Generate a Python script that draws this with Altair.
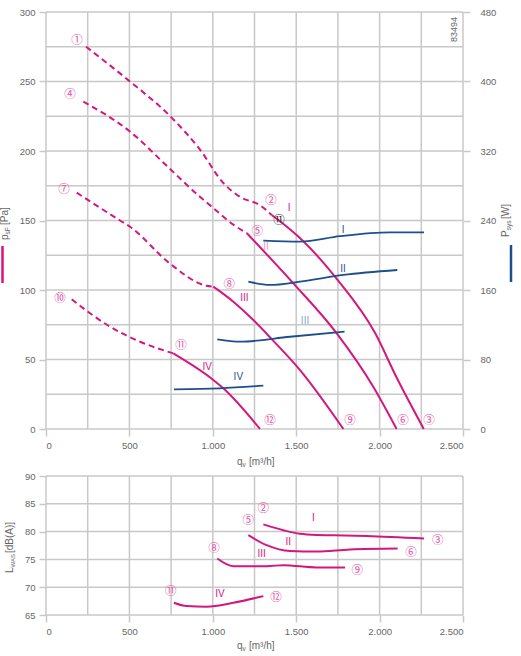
import altair as alt
import pandas as pd

# ---------------------------------------------------------------
# Fan characteristic: static pressure (Pa) over volume flow (m³/h)
# dashed = outside the recommended operating range
# ---------------------------------------------------------------
p1_dash_q = [240, 493, 753, 923, 1063, 1163, 1283, 1353]
p1_dash_p = [275, 251, 224, 201, 177, 167, 161, 154]
p1_q = [1353, 1397, 1541, 1743, 1973, 2102, 2265]
p1_p = [154, 150, 135.3, 108, 69, 37, 0]

p2_dash_q = [224, 493, 753, 923, 1003, 1123, 1203]
p2_dash_p = [235.5, 215, 186, 167, 159, 147, 141]
p2_q = [1203, 1483, 1743, 1962, 2102]
p2_p = [141, 104.8, 68.8, 30.4, 0]

p3_dash_q = [184, 444, 504, 743, 963, 1003]
p3_dash_p = [170, 150, 145.5, 119, 103, 102.4]
p3_q = [1003, 1123, 1243, 1353, 1523, 1783]
p3_p = [102.4, 91.6, 78.4, 64.7, 42.4, 0]

p4_dash_q = [154, 384, 564, 763]
p4_dash_p = [93.3, 73.6, 62.8, 54.4]
p4_q = [763, 1003, 1063, 1283]
p4_p = [54.4, 35.3, 29.3, 0]

# power input (W)
w1_q = [1303, 1523, 1763, 2062, 2266]
w1_w = [216.8, 215.6, 222, 226.4, 226.4]
w2_q = [1213, 1343, 1523, 1783, 2106]
w2_w = [169.6, 165.8, 169.6, 177.3, 183]
w3_q = [1027, 1163, 1463, 1790]
w3_w = [103.2, 100.5, 106.2, 112]
w4_q = [767, 1043, 1303]
w4_w = [45.7, 46.8, 49.9]

# sound power level (dB(A))
l1_q = [1303, 1423, 1523, 1623, 1723, 1923, 2266]
l1_db = [81.3, 80.25, 79.6, 79.4, 79.35, 79.2, 78.75]
l2_q = [1213, 1323, 1463, 1623, 1823, 2108]
l2_db = [79.35, 77.56, 76.5, 76.4, 76.8, 76.96]
l3_q = [1027, 1123, 1323, 1423, 1623, 1793]
l3_db = [75.17, 73.79, 73.79, 73.97, 73.55, 73.55]
l4_q = [767, 843, 963, 1123, 1303]
l4_db = [67.2, 66.6, 66.5, 67.2, 68.4]

# axis ticks / grid
q_grid = list(range(0, 2501, 250))
q_ticks = list(range(0, 2501, 500))
p_grid = list(range(0, 301, 25))
p_ticks = list(range(0, 301, 50))
w_ticks = list(range(0, 481, 80))
db_grid = list(range(65, 91, 5))
db_ticks = list(range(65, 91, 5))

# curve annotations (label, q, value)
pt_labels = [("①", 186, 279), ("④", 144, 240), ("⑦", 108, 172), ("⑩", 84, 93.5),
             ("②", 1349, 164), ("⑤", 1267, 141.5), ("⑧", 1099, 103.6),
             ("⑪", 809, 59.7), ("⑫", 1343, 5.8), ("⑨", 1823, 5.8),
             ("⑥", 2140, 5.8), ("③", 2296, 5.8)]
op_label = [("⑪", 1397, 150)]
stage_mag = [("I", 1457, 158.8), ("III", 1189, 94), ("IV", 967, 44.8)]
stage_pink = [("II", 1319, 130.7)]
stage_blue = [("I", 1781, 143.2), ("II", 1781, 115.1), ("IV", 1153, 37.6)]
stage_lblue = [("III", 1553, 77.7)]

db_pt_labels = [("②", 1303, 84.0), ("⑤", 1213, 81.9), ("③", 2348, 78.3),
                ("⑥", 2188, 76.2), ("⑧", 1007, 76.8), ("⑨", 1866, 72.9),
                ("⑪", 748, 69.2), ("⑫", 1379, 68.0)]
db_stage = [("I", 1603, 82.4), ("II", 1453, 78.2), ("III", 1293, 75.9), ("IV", 1043, 68.7)]

# ---------------------------------------------------------------
MAG = "#d4177f"
MAG_LT = "#e5509f"
PINK = "#f09ac6"
BLUE = "#1e4f8d"
LBLUE = "#8ea6cf"
GRID = "#c8c8c8"
TXT = "#666666"
FONT = "Liberation Sans"
CIRC_FONT = "Noto Sans CJK JP"
CIRC_SIZE = 11.5

xs = alt.Scale(domain=[0, 2500], nice=False, zero=False)
ys_pa = alt.Scale(domain=[0, 300], nice=False)
ys_w = alt.Scale(domain=[0, 480], nice=False)
ys_db = alt.Scale(domain=[65, 90], nice=False, zero=False)

x_label_expr = "replace(format(datum.value, ','), ',', '.')"

AXIS_STYLE = dict(title=None, grid=False, domain=False, tickSize=7, tickColor=GRID,
                  tickWidth=1.5, labelFontSize=9.5, labelColor=TXT, labelFont=FONT,
                  zindex=1)


def curves(items):
    rows = []
    for name, qs, vs in items:
        for i, (q, v) in enumerate(zip(qs, vs)):
            rows.append({"curve": name, "q": q, "v": v, "i": i})
    return pd.DataFrame(rows)


def labels(items):
    return pd.DataFrame(items, columns=["t", "q", "v"])


def line_layer(df, yscale, color, width=2, dash=None):
    kw = dict(interpolate="monotone", color=color, strokeWidth=width)
    if dash:
        kw["strokeDash"] = dash
    return alt.Chart(df).mark_line(**kw).encode(
        x=alt.X("q:Q", scale=xs, axis=None),
        y=alt.Y("v:Q", scale=yscale, axis=None),
        detail="curve:N",
        order="i:Q",
    )


def text_layer(df, yscale, color, size, font=FONT):
    return alt.Chart(df).mark_text(color=color, fontSize=size, font=font).encode(
        x=alt.X("q:Q", scale=xs, axis=None),
        y=alt.Y("v:Q", scale=yscale, axis=None),
        text="t:N",
    )


def piece(text, x, y, size=10, angle=0, color=TXT):
    kw = dict(text=text, align="left", baseline="middle", fontSize=size,
              font=FONT, color=color)
    if angle:
        kw["angle"] = angle
    return alt.Chart(pd.DataFrame({"k": [0]})).mark_text(**kw).encode(
        x=alt.value(x), y=alt.value(y))


def vgrid():
    return alt.Chart(pd.DataFrame({"q": q_grid})).mark_rule(
        color=GRID, strokeWidth=1.5).encode(
        x=alt.X("q:Q", scale=xs,
                axis=alt.Axis(values=q_ticks, labelExpr=x_label_expr,
                              labelPadding=4, **AXIS_STYLE)))


def hgrid(values, ticks, scale):
    return alt.Chart(pd.DataFrame({"p": values})).mark_rule(
        color=GRID, strokeWidth=1.5).encode(
        y=alt.Y("p:Q", scale=scale,
                axis=alt.Axis(values=ticks, labelPadding=4, **AXIS_STYLE)))


# ---------------- upper panel: pressure + power ----------------
page_bg = alt.Chart(pd.DataFrame({"k": [0]})).mark_rect(color="white").encode(
    x=alt.value(-46), x2=alt.value(475), y=alt.value(-12), y2=alt.value(644))

pa_dash = curves([("1", p1_dash_q, p1_dash_p), ("2", p2_dash_q, p2_dash_p),
                  ("3", p3_dash_q, p3_dash_p), ("4", p4_dash_q, p4_dash_p)])
pa_solid = curves([("1", p1_q, p1_p), ("2", p2_q, p2_p),
                   ("3", p3_q, p3_p), ("4", p4_q, p4_p)])
w_df = curves([("1", w1_q, w1_w), ("2", w2_q, w2_w),
               ("3", w3_q, w3_w), ("4", w4_q, w4_w)])

power = alt.Chart(w_df).mark_line(interpolate="monotone", color=BLUE, strokeWidth=1.8).encode(
    x=alt.X("q:Q", scale=xs, axis=None),
    y=alt.Y("v:Q", scale=ys_w,
            axis=alt.Axis(orient="right", values=w_ticks, labelPadding=10, **AXIS_STYLE)),
    detail="curve:N",
    order="i:Q",
)

top = alt.layer(
    page_bg,
    vgrid(),
    hgrid(p_grid, p_ticks, ys_pa),
    line_layer(pa_dash, ys_pa, MAG, 2, [6, 4]),
    line_layer(pa_solid, ys_pa, MAG, 2),
    power,
    text_layer(labels(pt_labels), ys_pa, MAG_LT, CIRC_SIZE, CIRC_FONT),
    text_layer(labels(op_label), ys_pa, "#222222", CIRC_SIZE, CIRC_FONT),
    text_layer(labels(stage_mag), ys_pa, MAG, 10),
    text_layer(labels(stage_pink), ys_pa, PINK, 10),
    text_layer(labels(stage_blue), ys_pa, BLUE, 10),
    text_layer(labels(stage_lblue), ys_pa, LBLUE, 10),
    # drawing number
    piece("83494", 408, 30, size=9, angle=270),
    # left title  p_sF [Pa]
    piece("p", -41, 228, angle=270),
    piece("sF", -38.5, 222.4, size=6.5, angle=270),
    piece("[Pa]", -41, 213, angle=270),
    alt.Chart(pd.DataFrame({"k": [0]})).mark_rule(color=MAG, strokeWidth=2.5).encode(
        x=alt.value(-43.5), y=alt.value(234), y2=alt.value(271)),
    # right title  P_sys [W]
    piece("P", 460, 225, angle=270),
    piece("sys", 462.5, 218.3, size=6.5, angle=270),
    piece("[W]", 460, 207, angle=270),
    alt.Chart(pd.DataFrame({"k": [0]})).mark_rule(color=BLUE, strokeWidth=2.5).encode(
        x=alt.value(465), y=alt.value(233), y2=alt.value(270)),
    # x title  q_v [m³/h]
    piece("q", 191, 449.7),
    piece("v", 196.6, 452.5, size=6.5),
    piece("[m³/h]", 203, 449.7),
).resolve_scale(x="independent", y="independent").properties(width=417, height=417)

# ---------------- lower panel: sound power level ----------------
db_df = curves([("1", l1_q, l1_db), ("2", l2_q, l2_db),
                ("3", l3_q, l3_db), ("4", l4_q, l4_db)])

bottom = alt.layer(
    vgrid(),
    hgrid(db_grid, db_ticks, ys_db),
    line_layer(db_df, ys_db, MAG, 2),
    text_layer(labels(db_pt_labels), ys_db, MAG_LT, CIRC_SIZE, CIRC_FONT),
    text_layer(labels(db_stage), ys_db, MAG, 10),
    # left title  L_WAS [dB(A)]
    piece("L", -36, 97, angle=270),
    piece("WAS", -33.5, 91.4, size=6, angle=270),
    piece("[dB(A)]", -36, 77, angle=270),
    # x title
    piece("q", 191, 170),
    piece("v", 196.6, 172.8, size=6.5),
    piece("[m³/h]", 203, 170),
).resolve_scale(x="independent", y="independent").properties(width=417, height=139)

chart = alt.vconcat(top, bottom, spacing=47, bounds="flush").properties(
    padding=0
).configure_view(stroke=None)

chart.save("out.html", embed_options={"renderer": "svg", "actions": False})
